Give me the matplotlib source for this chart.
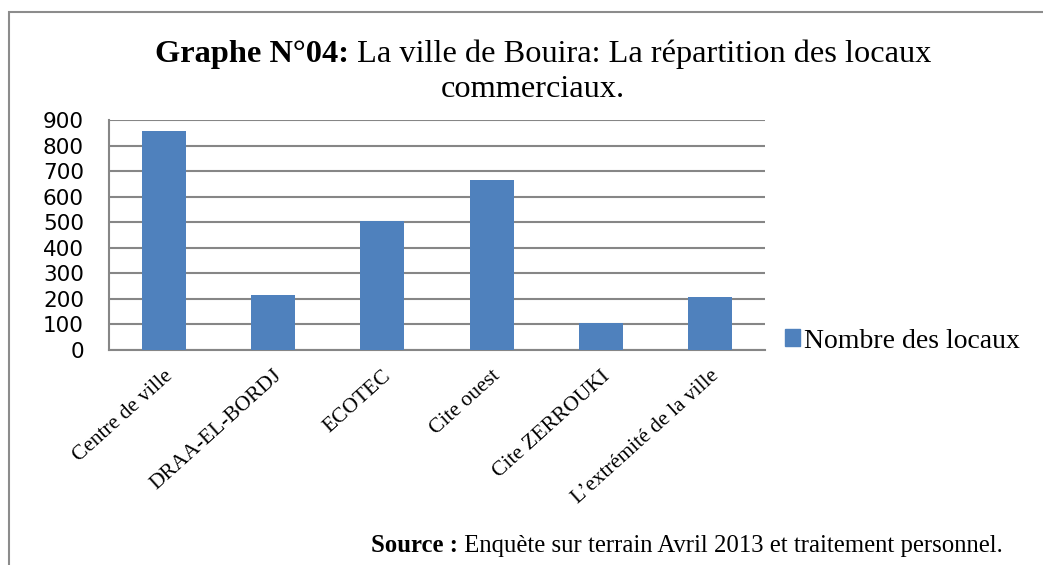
import matplotlib
matplotlib.use("Agg")
import matplotlib.pyplot as plt
from matplotlib.patches import Rectangle, Patch

# data
categories = ["Centre de ville", "DRAA-EL-BORDJ", "ECOTEC", "Cite ouest",
              "Cite ZERROUKI", "L\u2019extrémité de la ville"]
locaux = [855, 216, 506, 666, 106, 207]
yticks = [0, 100, 200, 300, 400, 500, 600, 700, 800, 900]

W, H = 1043, 565
BAR = "#4f81bd"
GRID = "#868686"
SERIF = "Liberation Serif"

fig = plt.figure(figsize=(W / 100, H / 100), dpi=100)

# outer frame of the chart area
fig.patches.append(Rectangle((9 / W, -0.1), 1.2, 1 - 12 / H + 0.1,
                             transform=fig.transFigure, fill=False,
                             edgecolor="#8c8c8c", linewidth=1.5))

ax = fig.add_axes([109 / W, 1 - 350 / H, (765 - 109) / W, (350 - 120) / H])
x = range(len(categories))
ax.bar(x, locaux, width=0.4, color=BAR, zorder=3)
ax.set_xlim(-0.5, len(categories) - 0.5)
ax.set_ylim(0, 900)
ax.set_yticks(yticks)
ax.yaxis.grid(True, color=GRID, linewidth=1.5, zorder=0)
for s in ("top", "right"):
    ax.spines[s].set_visible(False)
for s in ("left", "bottom"):
    ax.spines[s].set_color(GRID)
    ax.spines[s].set_linewidth(1.5)
ax.tick_params(axis="y", length=0, pad=18, labelsize=15.5)
ax.tick_params(axis="x", length=0, pad=12)
ax.set_xticks(list(x))
ax.set_xticklabels(categories, rotation=42, ha="right", va="top",
                   rotation_mode="anchor", family=SERIF, fontsize=15.5)

# title, bold prefix followed by regular text
fig.canvas.draw()
r = fig.canvas.get_renderer()
t1 = fig.text(155 / W, 1 - 62 / H, "Graphe N°04:", family=SERIF,
              weight="bold", fontsize=23.3, ha="left", va="baseline")
bb = t1.get_window_extent(r)
fig.text(bb.x1 / W, 1 - 62 / H, " La ville de Bouira: La répartition des locaux",
         family=SERIF, fontsize=23.3, ha="left", va="baseline")
fig.text(533 / W, 1 - 97 / H, "commerciaux.", family=SERIF, fontsize=23.3,
         ha="center", va="baseline")

# source line
s1 = fig.text(371 / W, 1 - 552 / H, "Source :", family=SERIF, weight="bold",
              fontsize=17.8, ha="left", va="baseline")
bb = s1.get_window_extent(r)
fig.text(bb.x1 / W, 1 - 552 / H, " Enquète sur terrain Avril 2013 et traitement personnel.",
         family=SERIF, fontsize=17.8, ha="left", va="baseline")

fig.legend(handles=[Patch(color=BAR, label="Nombre des locaux")],
           loc="center left", bbox_to_anchor=(760 / W, 1 - 341 / H),
           frameon=False, prop={"family": SERIF, "size": 20},
           handlelength=0.55, handleheight=0.55, handletextpad=0.15)

fig.savefig("out.png", dpi=100)
